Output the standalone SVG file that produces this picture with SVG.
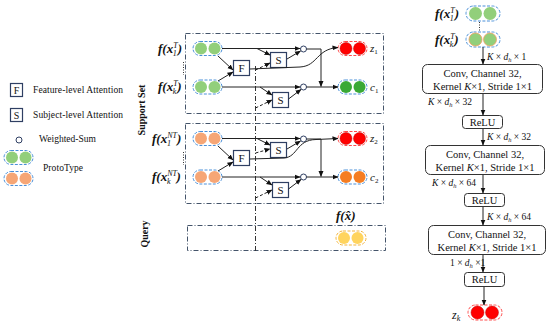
<svg xmlns="http://www.w3.org/2000/svg" width="550" height="325" viewBox="0 0 550 325">
<style>
.frame{fill:none;stroke:#44546a;stroke-width:1;stroke-dasharray:5 2 1 2}
.ln{fill:none;stroke:#222;stroke-width:1}
.dl{fill:none;stroke:#222;stroke-width:1;stroke-dasharray:3 2}
.box{fill:#fff;stroke:#2f3f63;stroke-width:1.2}
.rbox{fill:#fff;stroke:#333;stroke-width:1}
.pb{fill:none;stroke:#4a90d9;stroke-width:1;stroke-dasharray:3 1.5}
.pr{fill:none;stroke:#ff4a4a;stroke-width:1;stroke-dasharray:3 1.5}
.py{fill:none;stroke:#f2b43c;stroke-width:1;stroke-dasharray:3 1.5}
.g{fill:#92cf7b}.dg{fill:#3aa935}.o{fill:#f6a676}.do{fill:#f57d22}.r{fill:#ff0000;stroke:#c00000;stroke-width:0.5}.y{fill:#ffd45e}
.t{font-family:"Liberation Serif","Times New Roman",serif;fill:#111}
.lab{font-family:"Liberation Serif","Times New Roman",serif;font-weight:bold;font-style:italic;font-size:13px;fill:#111}
.sup{font-size:8px;font-weight:normal}
.it{font-family:"Liberation Serif","Times New Roman",serif;font-style:italic;fill:#111}
</style>
<defs>
<marker id="ah" markerWidth="6" markerHeight="6" refX="5.5" refY="3" orient="auto" markerUnits="userSpaceOnUse"><path d="M0,0.5 L6,3 L0,5.5 z" fill="#111"/></marker>
</defs>

<!-- Legend -->
<g id="legend">
<rect x="10.5" y="83.5" width="12" height="13" class="box"/>
<text x="16.5" y="94" class="t" font-size="10" text-anchor="middle">F</text>
<text x="33" y="93" class="t" font-size="9.5" textLength="90">Feature-level Attention</text>
<rect x="10.5" y="108.5" width="12" height="13" class="box"/>
<text x="16.5" y="119" class="t" font-size="10" text-anchor="middle">S</text>
<text x="33" y="118" class="t" font-size="9.5" textLength="90">Subject-level Attention</text>
<circle cx="19" cy="140" r="3" fill="#fff" stroke="#2f3f63" stroke-width="1"/>
<text x="39" y="142" class="t" font-size="9.5" textLength="57">Weighted-Sum</text>
<rect x="4" y="150.5" width="29" height="14" rx="7" class="pb"/>
<circle cx="12" cy="157.5" r="6" class="g"/><circle cx="25.5" cy="157.5" r="6" class="g"/>
<rect x="4" y="171.5" width="29" height="14" rx="7" class="pb"/>
<circle cx="12" cy="178.5" r="6" class="o"/><circle cx="25.5" cy="178.5" r="6" class="o"/>
<text x="43" y="171" class="t" font-size="9.5" textLength="40">ProtoType</text>
</g>

<!-- side labels -->
<text class="t" font-size="10" font-weight="bold" text-anchor="middle" transform="translate(144.5,110) rotate(-90)">Support Set</text>
<text class="t" font-size="10" font-weight="bold" text-anchor="middle" transform="translate(147.5,234) rotate(-90)">Query</text>

<!-- frames -->
<g id="frames">
<rect x="185.5" y="33.5" width="198" height="80" class="frame"/>
<rect x="185.5" y="123.5" width="198" height="80" class="frame"/>
<rect x="187.5" y="225.5" width="198" height="25" class="frame"/>
<line x1="255.5" y1="66" x2="255.5" y2="251" class="frame" style="stroke:#333"/>
</g>

<!-- Support T group -->
<g id="inputT1">
<text x="158" y="53" class="lab">f(x<tspan class="sup" dy="-5">T</tspan><tspan class="sup" dx="-5" dy="8">1</tspan><tspan dx="1" dy="-3">)</tspan></text>
<rect x="193" y="41.5" width="29" height="14" rx="7" class="pb"/>
<circle cx="201" cy="48.5" r="6" class="g"/><circle cx="214.5" cy="48.5" r="6" class="g"/>
</g>
<line x1="183.5" y1="62" x2="183.5" y2="75" stroke="#333" stroke-dasharray="1 1.5"/>
<g id="inputTk">
<text x="158" y="91" class="lab">f(x<tspan class="sup" dy="-5">T</tspan><tspan class="sup" dx="-5" dy="8">k</tspan><tspan dx="1" dy="-3">)</tspan></text>
<rect x="193" y="80" width="29" height="14" rx="7" class="pb"/>
<circle cx="201" cy="87" r="6" class="g"/><circle cx="214.5" cy="87" r="6" class="g"/>
</g>
<g id="F1"><rect x="233.5" y="60.5" width="16" height="15" class="box"/><text x="241.5" y="72" class="t" font-size="11" text-anchor="middle">F</text></g>
<g id="S1a"><rect x="270.5" y="52.5" width="16" height="15" class="box"/><text x="278.5" y="64" class="t" font-size="11" text-anchor="middle">S</text></g>
<g id="S1b"><rect x="272.5" y="92.5" width="16" height="15" class="box"/><text x="280.5" y="104" class="t" font-size="11" text-anchor="middle">S</text></g>
<g id="W1a"><circle cx="303.5" cy="49" r="3" fill="#fff" stroke="#2f3f63"/></g>
<g id="W1b"><circle cx="303.5" cy="87" r="3" fill="#fff" stroke="#2f3f63"/></g>
<g id="z1">
<rect x="338" y="41.5" width="29" height="14" rx="7" class="pr"/>
<circle cx="346" cy="48.5" r="6" class="r"/><circle cx="359.5" cy="48.5" r="6" class="r"/>
<text x="370" y="52" class="it" font-size="11">z<tspan font-size="7" font-style="normal" dy="2">1</tspan></text>
</g>
<g id="c1">
<rect x="338" y="80" width="29" height="14" rx="7" class="pb"/>
<circle cx="346" cy="87" r="6" class="dg"/><circle cx="359.5" cy="87" r="6" class="dg"/>
<text x="370" y="91" class="it" font-size="11">c<tspan font-size="7" font-style="normal" dy="2">1</tspan></text>
</g>

<!-- Support NT group -->
<g id="inputNT1">
<text x="152" y="143" class="lab">f(x<tspan class="sup" dy="-5">NT</tspan><tspan class="sup" dx="-10" dy="8">1</tspan><tspan dx="6" dy="-3">)</tspan></text>
<rect x="193" y="131.5" width="29" height="14" rx="7" class="pb"/>
<circle cx="201" cy="138.5" r="6" class="o"/><circle cx="214.5" cy="138.5" r="6" class="o"/>
</g>
<line x1="183.5" y1="152" x2="183.5" y2="165" stroke="#333" stroke-dasharray="1 1.5"/>
<g id="inputNTk">
<text x="152" y="181" class="lab">f(x<tspan class="sup" dy="-5">NT</tspan><tspan class="sup" dx="-10" dy="8">k</tspan><tspan dx="6" dy="-3">)</tspan></text>
<rect x="193" y="170" width="29" height="14" rx="7" class="pb"/>
<circle cx="201" cy="177" r="6" class="o"/><circle cx="214.5" cy="177" r="6" class="o"/>
</g>
<g id="F2"><rect x="233.5" y="150.5" width="16" height="15" class="box"/><text x="241.5" y="162" class="t" font-size="11" text-anchor="middle">F</text></g>
<g id="S2a"><rect x="270.5" y="142.5" width="16" height="15" class="box"/><text x="278.5" y="154" class="t" font-size="11" text-anchor="middle">S</text></g>
<g id="S2b"><rect x="272.5" y="182.5" width="16" height="15" class="box"/><text x="280.5" y="194" class="t" font-size="11" text-anchor="middle">S</text></g>
<g id="W2a"><circle cx="303.5" cy="139" r="3" fill="#fff" stroke="#2f3f63"/></g>
<g id="W2b"><circle cx="303.5" cy="177" r="3" fill="#fff" stroke="#2f3f63"/></g>
<g id="z2">
<rect x="338" y="131.5" width="29" height="14" rx="7" class="pr"/>
<circle cx="346" cy="138.5" r="6" class="r"/><circle cx="359.5" cy="138.5" r="6" class="r"/>
<text x="370" y="142" class="it" font-size="11">z<tspan font-size="7" font-style="normal" dy="2">2</tspan></text>
</g>
<g id="c2">
<rect x="338" y="170" width="29" height="14" rx="7" class="pb"/>
<circle cx="346" cy="177" r="6" class="do"/><circle cx="359.5" cy="177" r="6" class="do"/>
<text x="370" y="181" class="it" font-size="11">c<tspan font-size="7" font-style="normal" dy="2">2</tspan></text>
</g>

<!-- Query -->
<g id="query">
<text x="336" y="220" class="lab">f(x&#x302;)</text>
<rect x="336" y="231" width="30" height="14" rx="7" class="py"/>
<circle cx="344" cy="238" r="6" class="y"/><circle cx="357.5" cy="238" r="6" class="y"/>
</g>

<!-- connectors (support) -->
<g id="connectors">
<path d="M222,48.5 H300" class="ln" marker-end="url(#ah)"/>
<path d="M257,48.5 L270,55" class="ln" marker-end="url(#ah)"/>
<path d="M218,56 L233,70" class="ln" marker-end="url(#ah)"/>
<path d="M218,81 L233,72" class="ln" marker-end="url(#ah)"/>
<path d="M287,59 L300.5,51" class="ln" marker-end="url(#ah)"/>
<path d="M222,87 H300" class="ln" marker-end="url(#ah)"/>
<path d="M260,87 L272,95" class="ln" marker-end="url(#ah)"/>
<path d="M288.5,99 L301,89.5" class="ln" marker-end="url(#ah)"/>
<path d="M306.5,49 H321 V86.5" class="ln" marker-end="url(#ah)"/>
<path d="M306.5,87 H338" class="ln" marker-end="url(#ah)"/>
<path d="M250,69 L300,67 C318,66 316,49 338,47.5" class="ln" marker-end="url(#ah)"/>
<path d="M255.5,70 L270,63" class="dl" marker-end="url(#ah)"/>
<path d="M255.5,108 L272,100" class="dl" marker-end="url(#ah)"/>

<path d="M222,138.5 H300" class="ln" marker-end="url(#ah)"/>
<path d="M257,138.5 L270,145" class="ln" marker-end="url(#ah)"/>
<path d="M218,146 L233,160" class="ln" marker-end="url(#ah)"/>
<path d="M218,171 L233,162" class="ln" marker-end="url(#ah)"/>
<path d="M287,149 L300.5,141" class="ln" marker-end="url(#ah)"/>
<path d="M222,177 H300" class="ln" marker-end="url(#ah)"/>
<path d="M260,177 L272,185" class="ln" marker-end="url(#ah)"/>
<path d="M288.5,189 L301,179.5" class="ln" marker-end="url(#ah)"/>
<path d="M306.5,139 H321 V176.5" class="ln" marker-end="url(#ah)"/>
<path d="M306.5,177 H338" class="ln" marker-end="url(#ah)"/>
<path d="M250,159 L284,158 C298,157 296,140 316,139.5 L338,138.5" class="ln" marker-end="url(#ah)"/>
<path d="M255.5,153 L270,149" class="dl" marker-end="url(#ah)"/>
<path d="M255.5,198 L272,190" class="dl" marker-end="url(#ah)"/>
</g>

<!-- Right panel -->
<g id="r_in1">
<text x="435" y="18" class="lab">f(x<tspan class="sup" dy="-5">T</tspan><tspan class="sup" dx="-5" dy="8">1</tspan><tspan dx="1" dy="-3">)</tspan></text>
<rect x="466" y="6" width="34" height="15" rx="7.5" class="pb"/>
<circle cx="475.5" cy="13.5" r="6.5" class="g"/><circle cx="490" cy="13.5" r="6.5" class="g"/>
</g>
<line x1="479.5" y1="22" x2="479.5" y2="31" stroke="#333" stroke-dasharray="1 1.5"/>
<g id="r_ink">
<text x="435" y="44" class="lab">f(x<tspan class="sup" dy="-5">T</tspan><tspan class="sup" dx="-5" dy="8">k</tspan><tspan dx="1" dy="-3">)</tspan></text>
<rect x="466" y="32" width="34" height="15" rx="7.5" class="pb"/>
<circle cx="475.5" cy="39.5" r="6.5" class="g" stroke="#f0a060" stroke-width="0.8"/><circle cx="490" cy="39.5" r="6.5" class="g" stroke="#f0a060" stroke-width="0.8"/>
</g>
<g id="conv1"><rect x="422.5" y="64.5" width="120" height="29" rx="5" class="rbox"/>
<text x="482.5" y="77" class="t" font-size="10.5" text-anchor="middle">Conv, Channel 32,</text>
<text x="482.5" y="89.5" class="t" font-size="10.5" text-anchor="middle">Kernel <tspan font-style="italic">K</tspan>×1, Stride 1×1</text></g>
<g id="relu1"><rect x="462.5" y="115.5" width="40" height="13" rx="3" class="rbox"/>
<text x="482.5" y="125.5" class="t" font-size="10.5" text-anchor="middle">ReLU</text></g>
<g id="conv2"><rect x="425.5" y="145.5" width="119" height="29" rx="5" class="rbox"/>
<text x="485" y="158" class="t" font-size="10.5" text-anchor="middle">Conv, Channel 32,</text>
<text x="485" y="170.5" class="t" font-size="10.5" text-anchor="middle">Kernel <tspan font-style="italic">K</tspan>×1, Stride 1×1</text></g>
<g id="relu2"><rect x="464.5" y="193.5" width="40" height="13" rx="3" class="rbox"/>
<text x="484.5" y="203.5" class="t" font-size="10.5" text-anchor="middle">ReLU</text></g>
<g id="conv3"><rect x="428.5" y="225.5" width="117" height="29" rx="5" class="rbox"/>
<text x="487" y="238" class="t" font-size="10.5" text-anchor="middle">Conv, Channel 32,</text>
<text x="487" y="250.5" class="t" font-size="10.5" text-anchor="middle">Kernel <tspan font-style="italic">K</tspan>×1, Stride 1×1</text></g>
<g id="relu3"><rect x="464.5" y="272.5" width="40" height="14" rx="3" class="rbox"/>
<text x="484.5" y="283" class="t" font-size="10.5" text-anchor="middle">ReLU</text></g>
<g id="zk">
<rect x="468" y="305" width="34" height="15" rx="7.5" class="pr"/>
<circle cx="477.5" cy="312.5" r="6.5" class="r"/><circle cx="492" cy="312.5" r="6.5" class="r"/>
<text x="452" y="319" class="it" font-size="12">z<tspan font-size="8" dy="2">k</tspan></text>
</g>

<g id="r_connectors">
<path d="M483,47 V64" class="ln" marker-end="url(#ah)"/>
<path d="M483,94 V115" class="ln" marker-end="url(#ah)"/>
<path d="M483,129 V145" class="ln" marker-end="url(#ah)"/>
<path d="M483,175 V193" class="ln" marker-end="url(#ah)"/>
<path d="M483,207 V225" class="ln" marker-end="url(#ah)"/>
<path d="M483,255 V272" class="ln" marker-end="url(#ah)"/>
<path d="M484,287 V305" class="ln" marker-end="url(#ah)"/>
<text x="487" y="60" class="t" font-size="9.5"><tspan font-style="italic">K</tspan> × <tspan font-style="italic">d</tspan><tspan font-style="italic" font-size="6.5" dy="2">h</tspan><tspan dy="-2"> × 1</tspan></text>
<text x="428" y="105" class="t" font-size="9.5"><tspan font-style="italic">K</tspan> × <tspan font-style="italic">d</tspan><tspan font-style="italic" font-size="6.5" dy="2">h</tspan><tspan dy="-2"> × 32</tspan></text>
<text x="487" y="140" class="t" font-size="9.5"><tspan font-style="italic">K</tspan> × <tspan font-style="italic">d</tspan><tspan font-style="italic" font-size="6.5" dy="2">h</tspan><tspan dy="-2"> × 32</tspan></text>
<text x="432" y="186" class="t" font-size="9.5"><tspan font-style="italic">K</tspan> × <tspan font-style="italic">d</tspan><tspan font-style="italic" font-size="6.5" dy="2">h</tspan><tspan dy="-2"> × 64</tspan></text>
<text x="487" y="220" class="t" font-size="9.5"><tspan font-style="italic">K</tspan> × <tspan font-style="italic">d</tspan><tspan font-style="italic" font-size="6.5" dy="2">h</tspan><tspan dy="-2"> × 64</tspan></text>
<text x="450" y="266" class="t" font-size="9.5">1 × <tspan font-style="italic">d</tspan><tspan font-style="italic" font-size="6.5" dy="2">h</tspan><tspan dy="-2"> ×1</tspan></text>
</g>
</svg>
